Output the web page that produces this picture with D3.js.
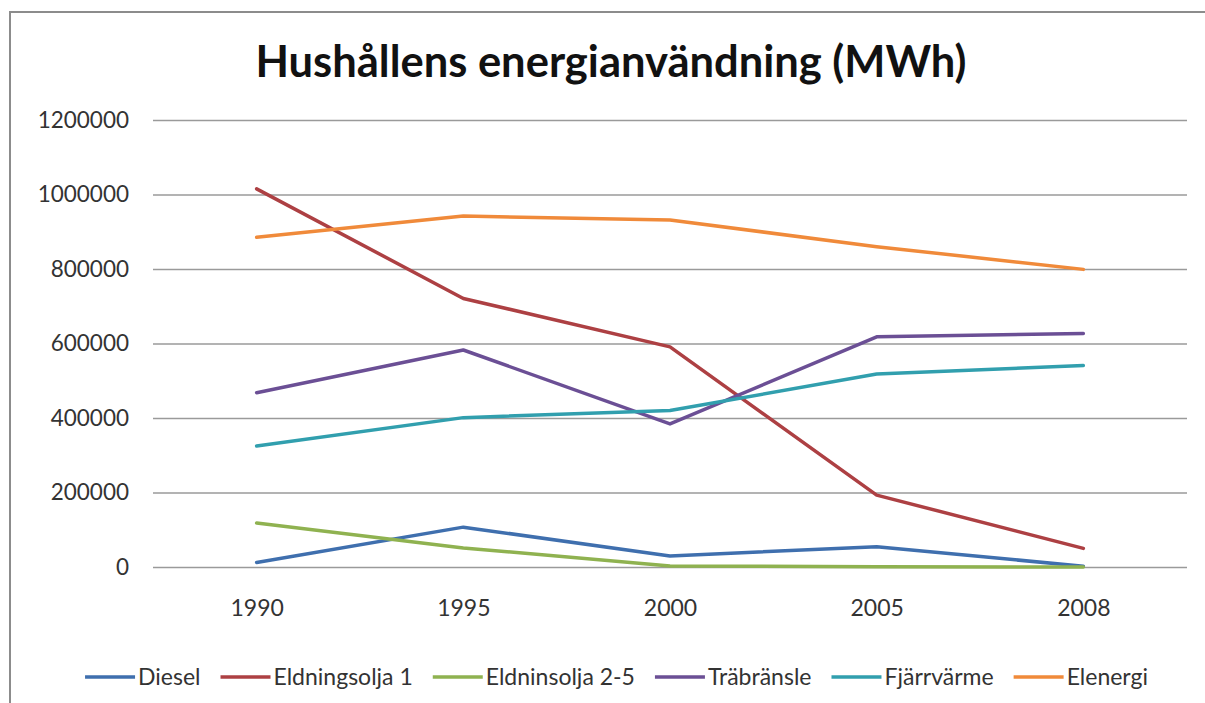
<!DOCTYPE html>
<html><head><meta charset="utf-8">
<script src="https://cdn.jsdelivr.net/npm/d3@7"></script>
<style>
html,body{margin:0;padding:0;background:#fff;}
svg{display:block;}
text{font-family:Lato,"Open Sans",sans-serif;}
</style></head>
<body>
<svg id="chart" width="1205" height="703"></svg>
<script>
const years = ["1990","1995","2000","2005","2008"];
const yTicks = [0,200000,400000,600000,800000,1000000,1200000];
const seriesNames = ["Diesel","Eldningsolja 1","Eldninsolja 2-5","Träbränsle","Fjärrvärme","Elenergi"];
const seriesColors = ["#3f6fae","#ad4043","#8fb250","#6b4f95","#319fae","#f08a3a"];
const diesel = [12000,107000,29500,54500,2000];
const eldningsolja1 = [1015000,721000,591000,193000,50000];
const eldninsolja25 = [118000,51000,3000,1000,0];
const trabransle = [468000,582500,384000,618000,627000];
const fjarrvarme = [325000,401000,420000,518000,541000];
const elenergi = [885000,942000,931500,860000,799000];
const seriesValues = [diesel,eldningsolja1,eldninsolja25,trabransle,fjarrvarme,elenergi];
const title = "Hushållens energianvändning (MWh)";

const svg = d3.select("#chart");
// chart frame (cut off at right/bottom)
svg.append("path").attr("d","M10,703 L10,12 L1205,12")
  .attr("fill","none").attr("stroke","#8c8c8c").attr("stroke-width",2);

const x = d3.scalePoint().domain(years).range([153.3,1186.7]).padding(0.5);
const y = d3.scaleLinear().domain([0,1200000]).range([567,120]);

svg.append("text").attr("x",611).attr("y",77).attr("text-anchor","middle")
  .attr("font-size",43.5).attr("font-weight","bold").attr("fill","#111").text(title);

// gridlines
const yAxis = d3.axisLeft(y).tickValues(yTicks).tickSize(-(1187-153)).tickPadding(24).tickFormat(d3.format("d"));
const gy = svg.append("g").attr("transform","translate(153,0)").call(yAxis);
gy.select(".domain").remove();
gy.selectAll(".tick line").attr("stroke","#9a9a9a").attr("stroke-width",1.5);
gy.selectAll(".tick text").attr("font-size",22.5).attr("fill","#333").attr("font-family","Lato,'Open Sans',sans-serif");

const xAxis = d3.axisBottom(x).tickSize(0).tickPadding(33);
const gx = svg.append("g").attr("transform","translate(0,567)").call(xAxis);
gx.select(".domain").remove();
gx.selectAll(".tick text").attr("font-size",23).attr("fill","#333").attr("font-family","Lato,'Open Sans',sans-serif");

const line = d3.line().x((d,i)=>x(years[i])).y(d=>y(d));
seriesValues.forEach((vals,k)=>{
  svg.append("path").datum(vals).attr("d",line).attr("fill","none")
    .attr("stroke",seriesColors[k]).attr("stroke-width",3.5)
    .attr("stroke-linejoin","round").attr("stroke-linecap","round");
});

// legend
const lg = svg.append("g");
let cx = 0;
const gap = 20;
seriesNames.forEach((n,k)=>{
  const g = lg.append("g");
  g.append("line").attr("x1",0).attr("x2",50).attr("y1",0).attr("y2",0)
    .attr("stroke",seriesColors[k]).attr("stroke-width",3.5);
  const t = g.append("text").attr("x",53).attr("y",8).attr("font-size",23).attr("fill","#333").text(n);
  const w = 53 + t.node().getComputedTextLength();
  g.attr("transform",`translate(${cx},677)`);
  cx += w + gap;
});
const total = cx - gap;
lg.attr("transform",`translate(${(85+1148)/2 - total/2},0)`);
</script>
</body></html>
